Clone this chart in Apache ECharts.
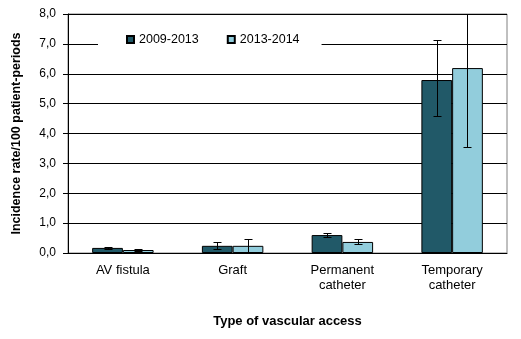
<!DOCTYPE html>
<html><head><meta charset="utf-8">
<script src="https://cdn.jsdelivr.net/npm/echarts@6/dist/echarts.min.js"></script>
<style>html,body{margin:0;padding:0;background:#fff}#c{width:521px;height:339px}</style>
</head><body><div id="c"></div>
<script>
var categories = ['AV fistula', 'Graft', 'Permanent\ncatheter', 'Temporary\ncatheter'];
var seriesNames = ['2009-2013', '2013-2014'];
var values2009 = [0.17, 0.24, 0.60, 5.79];
var values2013 = [0.10, 0.24, 0.37, 6.19];
var low2009 = [0.14, 0.15, 0.55, 4.58];
var high2009 = [0.19, 0.37, 0.67, 7.12];
var low2013 = [0.08, 0.05, 0.30, 3.55];
var high2013 = [0.12, 0.47, 0.46, 8.90];
var yTicks = [0, 1, 2, 3, 4, 5, 6, 7, 8];

var chart = echarts.init(document.getElementById('c'));
var catGap = 0.44;
function errSeries(lo, hi, idx) {
  return {
    type: 'custom', clip: true, z: 5,
    data: lo.map(function (v, i) { return [i, v, hi[i]]; }),
    renderItem: function (params, api) {
      var band = api.size([1, 0])[0];
      var bw = band * (1 - catGap) / 2;
      var off = (idx === 0 ? -0.5 : 0.5) * bw;
      var pLo = api.coord([api.value(0), api.value(1)]);
      var pHi = api.coord([api.value(0), api.value(2)]);
      var x = Math.round(pLo[0] + off) + 0.5;
      var yl = Math.round(pLo[1]) + 0.5, yh = Math.round(pHi[1]) + 0.5;
      var cap = 4;
      var st = { stroke: '#000', lineWidth: 1 };
      return { type: 'group', children: [
        { type: 'line', shape: { x1: x, y1: yl, x2: x, y2: yh }, style: st },
        { type: 'line', shape: { x1: x - cap, y1: yl, x2: x + cap, y2: yl }, style: st },
        { type: 'line', shape: { x1: x - cap, y1: yh, x2: x + cap, y2: yh }, style: st }
      ]};
    }
  };
}
var font = 'Liberation Sans, Arial, sans-serif';
chart.setOption({
  animation: false,
  textStyle: { fontFamily: font },
  grid: { left: 68, right: 14, top: 14, bottom: 86, show: true, borderColor: '#808080', borderWidth: 1 },
  legend: {
    data: seriesNames, left: 98, top: 30,
    padding: [3, 22, 3, 28], backgroundColor: '#fff',
    itemWidth: 7, itemHeight: 7, itemGap: 28, icon: 'rect',
    textStyle: { fontFamily: font, fontSize: 12.5, color: '#000' }
  },
  xAxis: {
    type: 'category', data: categories,
    name: 'Type of vascular access', nameLocation: 'middle', nameGap: 62,
    nameTextStyle: { fontFamily: font, fontSize: 13, fontWeight: 'bold', color: '#000' },
    axisLine: { lineStyle: { color: '#000' } },
    axisTick: { length: 5, lineStyle: { color: '#000' } },
    axisLabel: { fontFamily: font, fontSize: 13, color: '#000', margin: 10, lineHeight: 15 }
  },
  yAxis: {
    type: 'value', min: 0, max: 8, interval: 1,
    name: 'Incidence rate/100 patient-periods', nameLocation: 'middle', nameGap: 45,
    nameTextStyle: { fontFamily: font, fontSize: 12.5, fontWeight: 'bold', color: '#000' },
    axisLine: { show: true, lineStyle: { color: '#000' } },
    axisTick: { show: true, length: 5, lineStyle: { color: '#000' } },
    axisLabel: { fontFamily: font, fontSize: 12, color: '#000', margin: 12,
      formatter: function (v) { return v.toFixed(1).replace('.', ','); } },
    splitLine: { lineStyle: { color: '#000' } }
  },
  series: [
    { name: seriesNames[0], type: 'bar', data: values2009, barGap: '0%', barCategoryGap: '44%',
      itemStyle: { color: '#215968', borderColor: '#000', borderWidth: 1 } },
    { name: seriesNames[1], type: 'bar', data: values2013, barGap: '0%', barCategoryGap: '44%',
      itemStyle: { color: '#92CDDC', borderColor: '#000', borderWidth: 1 } },
    errSeries(low2009, high2009, 0),
    errSeries(low2013, high2013, 1)
  ]
});
</script></body></html>
